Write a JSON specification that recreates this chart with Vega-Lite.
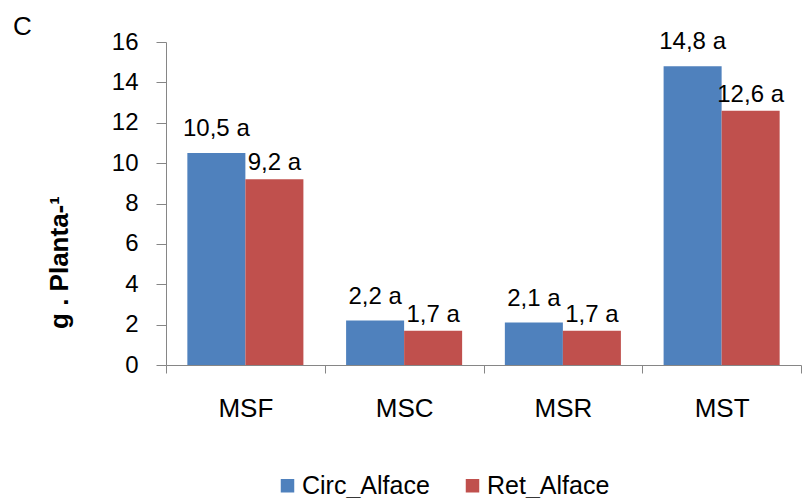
{
  "$schema": "https://vega.github.io/schema/vega-lite/v6.json",
  "autosize": "none",
  "padding": {"left": 166, "top": 42, "right": 4, "bottom": 133},
  "width": 635,
  "height": 323,
  "background": "white",
  "config": {
    "font": "Liberation Sans",
    "view": {"stroke": null}
  },
  "title": {
    "text": "C",
    "anchor": "start",
    "frame": "group",
    "fontSize": 26,
    "fontWeight": "normal",
    "color": "black",
    "baseline": "alphabetic",
    "offset": 0,
    "dx": -153,
    "dy": 31
  },
  "data": {
    "values": [
      {"variavel": "MSF", "serie": "Circ_Alface", "valor": 10.5, "rotulo": "10,5 a"},
      {"variavel": "MSF", "serie": "Ret_Alface", "valor": 9.2, "rotulo": "9,2 a"},
      {"variavel": "MSC", "serie": "Circ_Alface", "valor": 2.2, "rotulo": "2,2 a"},
      {"variavel": "MSC", "serie": "Ret_Alface", "valor": 1.7, "rotulo": "1,7 a"},
      {"variavel": "MSR", "serie": "Circ_Alface", "valor": 2.1, "rotulo": "2,1 a"},
      {"variavel": "MSR", "serie": "Ret_Alface", "valor": 1.7, "rotulo": "1,7 a"},
      {"variavel": "MST", "serie": "Circ_Alface", "valor": 14.8, "rotulo": "14,8 a"},
      {"variavel": "MST", "serie": "Ret_Alface", "valor": 12.6, "rotulo": "12,6 a"}
    ]
  },
  "encoding": {
    "x": {
      "field": "variavel",
      "type": "nominal",
      "sort": ["MSF", "MSC", "MSR", "MST"],
      "scale": {"paddingInner": 0, "paddingOuter": 0},
      "axis": {
        "title": null,
        "labelAngle": 0,
        "labelFontSize": 26,
        "labelColor": "black",
        "labelPadding": 22,
        "tickBand": "extent",
        "tickSize": 8,
        "domainColor": "#868686",
        "tickColor": "#868686"
      }
    },
    "xOffset": {
      "field": "serie",
      "type": "nominal",
      "sort": ["Circ_Alface", "Ret_Alface"],
      "scale": {"paddingInner": 0, "paddingOuter": 0.368}
    },
    "y": {
      "field": "valor",
      "type": "quantitative",
      "scale": {"domain": [0, 16]},
      "axis": {
        "values": [0, 2, 4, 6, 8, 10, 12, 14, 16],
        "grid": false,
        "domainColor": "#868686",
        "tickColor": "#868686",
        "tickSize": 10,
        "labelFontSize": 24,
        "labelColor": "black",
        "labelPadding": 18,
        "title": "g . Planta-¹",
        "titleFontSize": 26,
        "titleFontWeight": "bold",
        "titleColor": "black",
        "titleAngle": 270,
        "titleX": -107,
        "titleY": 220,
        "titleAlign": "center",
        "titleBaseline": "middle"
      }
    }
  },
  "layer": [
    {
      "mark": {"type": "bar"},
      "encoding": {
        "color": {
          "field": "serie",
          "type": "nominal",
          "sort": ["Circ_Alface", "Ret_Alface"],
          "scale": {"domain": ["Circ_Alface", "Ret_Alface"], "range": ["#4F81BD", "#C0504D"]},
          "legend": {
            "title": null,
            "orient": "none",
            "legendX": 109,
            "legendY": 431,
            "direction": "horizontal",
            "padding": 0,
            "symbolType": "square",
            "symbolSize": 182,
            "symbolStrokeWidth": 0,
            "labelFontSize": 25,
            "labelColor": "black",
            "labelOffset": 2,
            "columnPadding": 30
          }
        }
      }
    },
    {
      "transform": [{"filter": "datum.serie == 'Circ_Alface'"}],
      "mark": {"type": "text", "baseline": "alphabetic", "dy": -17, "fontSize": 24, "color": "black"},
      "encoding": {"text": {"field": "rotulo"}}
    },
    {
      "transform": [{"filter": "datum.serie == 'Ret_Alface'"}],
      "mark": {"type": "text", "baseline": "alphabetic", "dy": -9, "fontSize": 24, "color": "black"},
      "encoding": {"text": {"field": "rotulo"}}
    }
  ]
}
